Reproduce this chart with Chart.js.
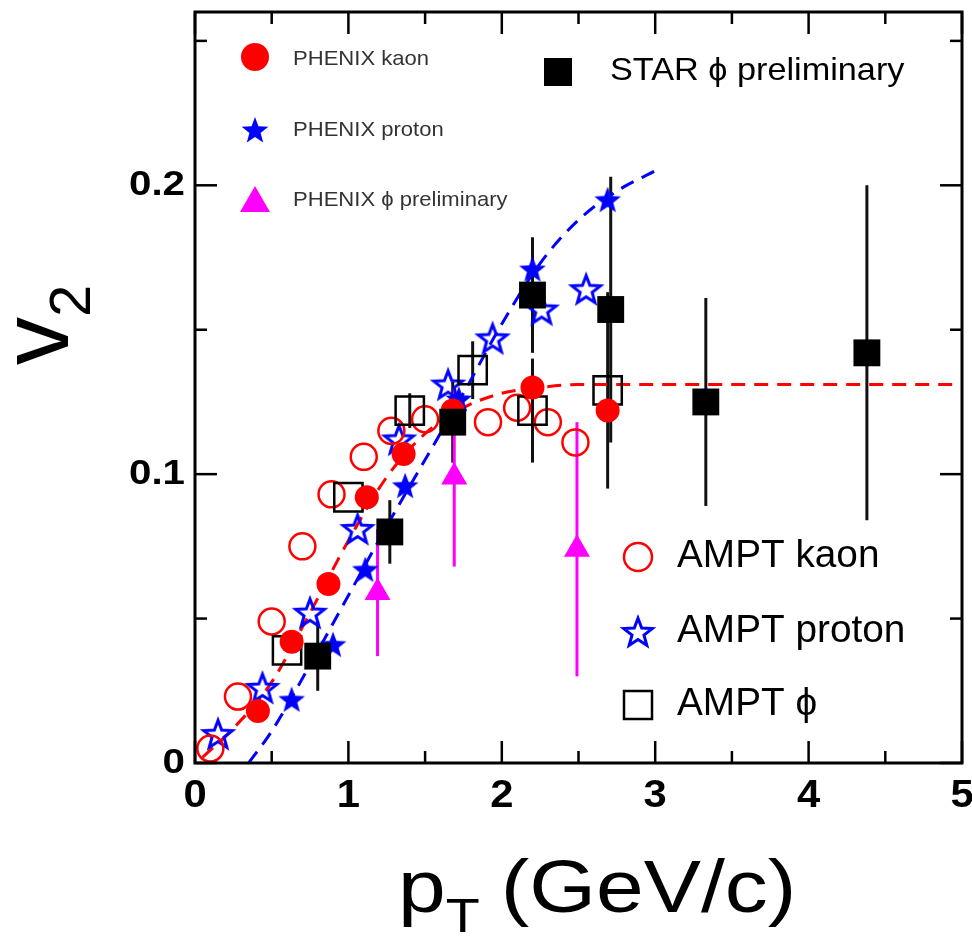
<!DOCTYPE html>
<html>
<head>
<meta charset="utf-8">
<script src="https://cdn.jsdelivr.net/npm/chart.js@4.4.0/dist/chart.umd.min.js"></script>
<style>
  html, body { margin: 0; padding: 0; background: #fff; }
  #wrap { width: 972px; height: 943px; }
</style>
</head>
<body>
<div id="wrap"><canvas id="v2Chart" width="972" height="943"></canvas></div>
<script>
// v2 vs pT values
const phenixKaonPt = [0.41, 0.63, 0.87, 1.12, 1.36, 1.68, 2.20, 2.69];
const phenixKaonV2 = [0.018, 0.042, 0.062, 0.092, 0.107, 0.122, 0.130, 0.122];

const phenixProtonPt = [0.63, 0.90, 1.11, 1.37, 1.72, 2.20, 2.69];
const phenixProtonV2 = [0.022, 0.041, 0.067, 0.096, 0.126, 0.171, 0.195];

const phenixPhiPt = [1.19, 1.69, 2.49];
const phenixPhiV2 = [0.059, 0.099, 0.074];
const phenixPhiErr = [0.022, 0.031, 0.044];

const starPhiPt = [0.80, 1.27, 1.68, 2.20, 2.71, 3.33, 4.38];
const starPhiV2 = [0.037, 0.080, 0.118, 0.162, 0.157, 0.125, 0.142];
const starPhiErr = [0.012, 0.011, 0.014, 0.020, 0.046, 0.036, 0.058];

const amptKaonPt = [0.10, 0.28, 0.50, 0.70, 0.89, 1.10, 1.28, 1.50, 1.91, 2.10, 2.30, 2.48];
const amptKaonV2 = [0.005, 0.023, 0.049, 0.075, 0.093, 0.106, 0.115, 0.119, 0.118, 0.123, 0.118, 0.111];

const amptProtonPt = [0.15, 0.44, 0.75, 1.06, 1.33, 1.65, 1.94, 2.26, 2.55];
const amptProtonV2 = [0.010, 0.026, 0.052, 0.081, 0.112, 0.131, 0.147, 0.157, 0.164];

const amptPhiPt = [0.60, 1.00, 1.40, 1.81, 2.20, 2.69];
const amptPhiV2 = [0.039, 0.092, 0.122, 0.136, 0.122, 0.129];
const amptPhiErr = [0, 0, 0.006, 0.010, 0.018, 0.034];

// dashed fit curves
const kaonFitPt = [0.05, 0.25, 0.5, 0.75, 1.0, 1.25, 1.5, 1.75, 2.0, 2.25, 2.5, 3.0, 4.0, 5.0];
const kaonFitV2 = [0.002, 0.012, 0.028, 0.052, 0.077, 0.099, 0.114, 0.123, 0.128, 0.130, 0.131, 0.131, 0.131, 0.131];
const protonFitPt = [0.35, 0.5, 0.75, 1.0, 1.25, 1.5, 1.75, 2.0, 2.25, 2.5, 2.75, 3.0];
const protonFitV2 = [0.0, 0.011, 0.034, 0.058, 0.082, 0.105, 0.128, 0.152, 0.173, 0.188, 0.198, 0.205];

const xTicks = [0, 1, 2, 3, 4, 5];
const yTicks = [0, 0.1, 0.2];
const xMinorTicks = [0.5, 1.5, 2.5, 3.5, 4.5];
const yMinorTicks = [0.05, 0.15, 0.25];

const RED = "#ff0000", BLUE = "#0000ff", MAGENTA = "#ff00ff", BLACK = "#000000";
const FONT = '"Liberation Sans", Arial, Helvetica, sans-serif';

const pts = (xs, ys) => xs.map((x, i) => ({ x: x, y: ys[i] }));

// 5 point star as an image for pointStyle
function starImage(R, fill, stroke, lw) {
  const pad = (lw || 0) + 2;
  const s = Math.ceil(2 * R + 2 * pad);
  const c = document.createElement("canvas");
  c.width = s; c.height = s;
  const g = c.getContext("2d");
  traceStar(g, s / 2, s / 2 + R * 0.08, R);
  if (fill) { g.fillStyle = fill; g.fill(); }
  if (stroke) { g.strokeStyle = stroke; g.lineWidth = lw; g.stroke(); }
  return c;
}
function traceStar(g, cx, cy, R) {
  g.beginPath();
  for (let i = 0; i < 10; i++) {
    const r = i % 2 === 0 ? R : R * 0.42;
    const a = -Math.PI / 2 + i * Math.PI / 5;
    g.lineTo(cx + r * Math.cos(a), cy + r * Math.sin(a));
  }
  g.closePath();
}

const filledStar = starImage(14, BLUE, null, 0);
const openStar = starImage(15, null, BLUE, 3);

// text with optional horizontal stretch
function txt(ctx, s, x, y, font, align, sx, base) {
  ctx.save();
  ctx.font = font;
  ctx.textAlign = align || "left";
  ctx.textBaseline = base || "middle";
  ctx.translate(x, y);
  ctx.scale(sx || 1, 1);
  ctx.fillText(s, 0, 0);
  ctx.restore();
}

// vertical error bars, drawn under the markers
const errorBarPlugin = {
  id: "errorBars",
  beforeDatasetsDraw(chart) {
    const ctx = chart.ctx;
    const xs = chart.scales.x, ys = chart.scales.y;
    chart.data.datasets.forEach((ds) => {
      if (!ds.errs) return;
      ctx.save();
      ctx.strokeStyle = ds.errColor;
      ctx.lineWidth = 3;
      ds.data.forEach((p, i) => {
        const e = ds.errs[i];
        if (!e) return;
        const px = xs.getPixelForValue(p.x);
        ctx.beginPath();
        ctx.moveTo(px, ys.getPixelForValue(p.y - e));
        ctx.lineTo(px, ys.getPixelForValue(p.y + e));
        ctx.stroke();
      });
      ctx.restore();
    });
  }
};

// frame, inward ticks, tick labels, axis titles and legends
const framePlugin = {
  id: "frame",
  afterDraw(chart) {
    const ctx = chart.ctx;
    const a = chart.chartArea;
    const xs = chart.scales.x, ys = chart.scales.y;
    ctx.save();
    ctx.strokeStyle = BLACK;
    ctx.lineWidth = 3;
    ctx.strokeRect(a.left, a.top, a.right - a.left, a.bottom - a.top);

    ctx.lineWidth = 2.5;
    const tick = (x1, y1, x2, y2) => { ctx.beginPath(); ctx.moveTo(x1, y1); ctx.lineTo(x2, y2); ctx.stroke(); };
    xTicks.forEach((v) => {
      const px = xs.getPixelForValue(v);
      tick(px, a.bottom, px, a.bottom - 22);
      tick(px, a.top, px, a.top + 22);
    });
    xMinorTicks.forEach((v) => {
      const px = xs.getPixelForValue(v);
      tick(px, a.bottom, px, a.bottom - 12);
      tick(px, a.top, px, a.top + 12);
    });
    yTicks.forEach((v) => {
      const py = ys.getPixelForValue(v);
      tick(a.left, py, a.left + 22, py);
      tick(a.right, py, a.right - 22, py);
    });
    yMinorTicks.forEach((v) => {
      const py = ys.getPixelForValue(v);
      tick(a.left, py, a.left + 12, py);
      tick(a.right, py, a.right - 12, py);
    });

    ctx.fillStyle = BLACK;
    yTicks.forEach((v) => {
      txt(ctx, String(v), a.left - 10, ys.getPixelForValue(v), "bold 35px " + FONT, "right", 1.15);
    });
    xTicks.forEach((v) => {
      txt(ctx, String(v), xs.getPixelForValue(v), 797, "bold 38px " + FONT, "center", 1.1);
    });

    // x title: pT (GeV/c)
    ctx.save();
    ctx.translate(398, 912);
    ctx.scale(1.16, 1);
    ctx.textBaseline = "alphabetic";
    ctx.textAlign = "left";
    let x0 = 0;
    ctx.font = "74px " + FONT;
    ctx.fillText("p", x0, 0);
    x0 += ctx.measureText("p").width;
    ctx.font = "48px " + FONT;
    ctx.fillText("T", x0, 20);
    x0 += ctx.measureText("T").width + 18;
    ctx.font = "74px " + FONT;
    ctx.fillText("(GeV/c)", x0, 0);
    ctx.restore();

    // y title: v2
    ctx.save();
    ctx.translate(68, 365);
    ctx.rotate(-Math.PI / 2);
    ctx.textBaseline = "alphabetic";
    ctx.textAlign = "left";
    ctx.font = "96px " + FONT;
    ctx.fillText("v", 0, 0);
    const vw = ctx.measureText("v").width;
    ctx.font = "58px " + FONT;
    ctx.fillText("2", vw, 22);
    ctx.restore();

    // top-left legend
    ctx.fillStyle = RED;
    ctx.beginPath(); ctx.arc(255, 57, 14, 0, Math.PI * 2); ctx.fill();
    ctx.drawImage(filledStar, 255 - filledStar.width / 2, 130 - filledStar.height / 2);
    ctx.fillStyle = MAGENTA;
    ctx.beginPath(); ctx.moveTo(255, 186); ctx.lineTo(270, 212); ctx.lineTo(240, 212); ctx.closePath(); ctx.fill();
    ctx.fillStyle = "#333";
    txt(ctx, "PHENIX kaon", 293, 59, "21px " + FONT, "left", 1.05);
    txt(ctx, "PHENIX proton", 293, 130, "21px " + FONT, "left", 1.05);
    txt(ctx, "PHENIX \u03d5 preliminary", 293, 200, "21px " + FONT, "left", 1.05);

    // STAR legend
    ctx.fillStyle = BLACK;
    ctx.fillRect(544, 58, 28, 28);
    txt(ctx, "STAR \u03d5 preliminary", 610, 71, "32px " + FONT, "left", 1.07);

    // AMPT legend
    ctx.lineWidth = 2.5;
    ctx.strokeStyle = RED;
    ctx.beginPath(); ctx.arc(638, 557, 14, 0, Math.PI * 2); ctx.stroke();
    ctx.drawImage(openStar, 638 - openStar.width / 2, 632 - openStar.height / 2);
    ctx.strokeStyle = BLACK;
    ctx.strokeRect(624, 691, 28, 28);
    ctx.fillStyle = BLACK;
    txt(ctx, "AMPT kaon", 677, 557, "38px " + FONT, "left", 1.02);
    txt(ctx, "AMPT proton", 677, 632, "38px " + FONT, "left", 1.02);
    txt(ctx, "AMPT \u03d5", 677, 705, "38px " + FONT, "left", 1.02);
    ctx.restore();
  }
};

const ctx = document.getElementById("v2Chart").getContext("2d");
new Chart(ctx, {
  type: "scatter",
  data: {
    datasets: [
      {
        label: "STAR phi preliminary",
        data: pts(starPhiPt, starPhiV2),
        errs: starPhiErr, errColor: "#111",
        pointStyle: "rect", pointRadius: 19,
        backgroundColor: BLACK, borderColor: BLACK, borderWidth: 0
      },
      {
        label: "PHENIX phi preliminary",
        data: pts(phenixPhiPt, phenixPhiV2),
        errs: phenixPhiErr, errColor: MAGENTA,
        pointStyle: "triangle", pointRadius: 15,
        backgroundColor: MAGENTA, borderColor: MAGENTA, borderWidth: 0
      },
      {
        label: "PHENIX kaon",
        data: pts(phenixKaonPt, phenixKaonV2),
        pointStyle: "circle", pointRadius: 12,
        backgroundColor: RED, borderColor: RED, borderWidth: 0
      },
      {
        label: "PHENIX proton",
        data: pts(phenixProtonPt, phenixProtonV2),
        pointStyle: filledStar, pointRadius: 14
      },
      {
        label: "AMPT phi",
        data: pts(amptPhiPt, amptPhiV2),
        errs: amptPhiErr, errColor: "#111",
        pointStyle: "rect", pointRadius: 20,
        backgroundColor: "rgba(0,0,0,0)", borderColor: BLACK, borderWidth: 2.5
      },
      {
        label: "AMPT kaon",
        data: pts(amptKaonPt, amptKaonV2),
        pointStyle: "circle", pointRadius: 13,
        backgroundColor: "rgba(0,0,0,0)", borderColor: RED, borderWidth: 2.5
      },
      {
        label: "AMPT proton",
        data: pts(amptProtonPt, amptProtonV2),
        pointStyle: openStar, pointRadius: 15
      },
      {
        label: "kaon fit",
        data: pts(kaonFitPt, kaonFitV2),
        showLine: true, pointRadius: 0,
        borderColor: RED, borderWidth: 3, borderDash: [14, 9],
        cubicInterpolationMode: "monotone"
      },
      {
        label: "proton fit",
        data: pts(protonFitPt, protonFitV2),
        showLine: true, pointRadius: 0,
        borderColor: BLUE, borderWidth: 3, borderDash: [14, 9],
        cubicInterpolationMode: "monotone"
      }
    ]
  },
  options: {
    responsive: false,
    animation: false,
    events: [],
    layout: { autoPadding: false, padding: { top: 12, right: 10, left: 0, bottom: 0 } },
    scales: {
      x: {
        type: "linear", min: 0, max: 5,
        grid: { display: false }, border: { display: false },
        ticks: { display: false },
        afterFit: (s) => { s.height = 180; }
      },
      y: {
        type: "linear", min: 0, max: 0.26,
        grid: { display: false }, border: { display: false },
        ticks: { display: false },
        afterFit: (s) => { s.width = 195; }
      }
    },
    plugins: {
      legend: { display: false },
      tooltip: { enabled: false }
    }
  },
  plugins: [errorBarPlugin, framePlugin]
});
</script>
</body>
</html>
